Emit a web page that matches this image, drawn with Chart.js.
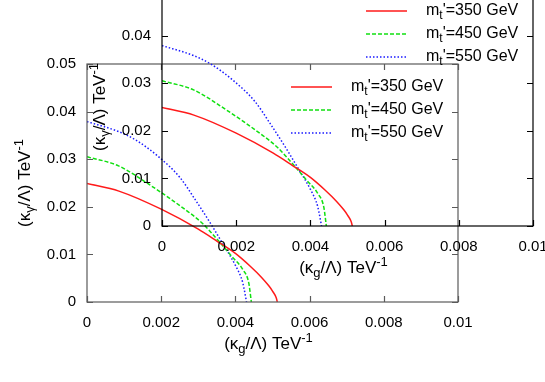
<!DOCTYPE html>
<html>
<head>
<meta charset="utf-8">
<script src="https://cdn.jsdelivr.net/npm/chart.js@4/dist/chart.umd.min.js"></script>
<style>
  html, body { margin: 0; padding: 0; background: #fff; overflow: hidden; }
  #wrap { position: relative; width: 545px; height: 382px; overflow: hidden; }
  canvas { position: absolute; }
</style>
</head>
<body>
<div id="wrap">
  <canvas id="backC" width="545" height="382" style="left:0;top:0"></canvas>
  <canvas id="frontC" width="545" height="382" style="left:75px;top:-76px"></canvas>
</div>
<script>
/* ── data (kappa_g/Lambda vs kappa_gamma/Lambda, TeV^-1) ── */
const redX   = [0, 0.00086, 0.002, 0.003, 0.0035, 0.004, 0.0044, 0.0047, 0.0049, 0.005, 0.0051, 0.00513];
const redY   = [0.0249, 0.0233, 0.0195, 0.0153, 0.0128, 0.0102, 0.0075, 0.0052, 0.0034, 0.0023, 0.0009, 0];
const greenX = [0, 0.00085, 0.00175, 0.00265, 0.0031, 0.00355, 0.0039, 0.0042, 0.00436, 0.00443];
const greenY = [0.0305, 0.0286, 0.0243, 0.0194, 0.0166, 0.0128, 0.0096, 0.0068, 0.0040, 0];
const blueX  = [0, 0.00085, 0.0013, 0.0019, 0.0025, 0.0029, 0.00337, 0.0037, 0.004, 0.0042, 0.0043];
const blueY  = [0.0379, 0.0358, 0.0341, 0.0307, 0.0262, 0.0217, 0.0160, 0.0117, 0.0077, 0.0040, 0];

const seriesMass = ['350', '450', '550'];
const xTicks = [0, 0.002, 0.004, 0.006, 0.008, 0.01];
const xTickLabels = ['0', '0.002', '0.004', '0.006', '0.008', '0.01'];
const yTicks = [0, 0.01, 0.02, 0.03, 0.04, 0.05];
const yTickLabels = ['0', '0.01', '0.02', '0.03', '0.04', '0.05'];

const FONT = '"Liberation Sans", Arial, Helvetica, sans-serif';

/* ── richText — draws text with sub/superscript pieces ─────────────────── */
function richText(ctx, parts, x, y, big, small, align) {
  let total = 0;
  parts.forEach(p => {
    ctx.font = (p[1] ? small : big) + 'px ' + FONT;
    p.w = ctx.measureText(p[0]).width;
    total += p.w;
  });
  let cx = align === 'left' ? x : x - total / 2;
  ctx.textBaseline = 'middle';
  ctx.textAlign = 'left';
  parts.forEach(p => {
    ctx.font = (p[1] ? small : big) + 'px ' + FONT;
    const dy = p[1] === 'sub' ? 5 : (p[1] === 'sup' ? -6 : 0);
    ctx.fillText(p[0], cx, y + dy);
    cx += p.w;
  });
}

/* ── frame, inward ticks, titles and key, in gnuplot style ─────────────── */
const gnuFrame = {
  id: 'gnuFrame',
  afterDraw(chart, args, opts) {
    const ctx = chart.ctx, ca = chart.chartArea;
    const xs = chart.scales.x, ys = chart.scales.y;
    ctx.save();
    ctx.strokeStyle = opts.axisColor;
    ctx.lineWidth = 1.2;
    ctx.strokeRect(ca.left, ca.top, ca.right - ca.left, ca.bottom - ca.top);
    ctx.beginPath();
    xTicks.forEach(v => {
      const px = Math.round(xs.getPixelForValue(v)) + 0.5;
      ctx.moveTo(px, ca.bottom); ctx.lineTo(px, ca.bottom - 6);
      ctx.moveTo(px, ca.top);    ctx.lineTo(px, ca.top + 6);
    });
    yTicks.forEach(v => {
      const py = Math.round(ys.getPixelForValue(v)) + 0.5;
      ctx.moveTo(ca.left, py);  ctx.lineTo(ca.left + 6, py);
      ctx.moveTo(ca.right, py); ctx.lineTo(ca.right - 6, py);
    });
    ctx.stroke();

    ctx.fillStyle = '#000';
    /* axis titles */
    richText(ctx, [['(κ'], ['g', 'sub'], ['/Λ) TeV'], ['-1', 'sup']],
             (ca.left + ca.right) / 2 - 4, ca.bottom + 42, 17, 13);
    ctx.save();
    ctx.translate(25, (ca.top + ca.bottom) / 2);
    ctx.rotate(-Math.PI / 2);
    richText(ctx, [['(κ'], ['γ', 'sub'], ['/Λ) TeV'], ['-1', 'sup']], 0, 0, 17, 13);
    ctx.restore();

    /* key */
    chart.data.datasets.forEach((ds, i) => {
      const y = ca.top + 23 + i * 23;
      ctx.strokeStyle = ds.borderColor;
      ctx.lineWidth = ds.borderWidth;
      ctx.setLineDash(ds.borderDash || []);
      ctx.beginPath();
      ctx.moveTo(ca.right - 167, y); ctx.lineTo(ca.right - 126, y);
      ctx.stroke();
      ctx.setLineDash([]);
      ctx.fillStyle = '#000';
      richText(ctx, [['m'], ['t', 'sub'], ["'=" + seriesMass[i] + ' GeV']],
               ca.right - 107, y, 16, 12, 'left');
    });
    ctx.restore();
  }
};

function pts(xv, yv) { return xv.map((x, i) => ({ x: x, y: yv[i] })); }

function buildPanel(canvasId, axisColor) {
  const ctx = document.getElementById(canvasId).getContext('2d');
  const line = (data, clr, dash) => ({
    data, borderColor: clr, borderWidth: 1.5, borderDash: dash,
    showLine: true, pointRadius: 0, fill: false,
    cubicInterpolationMode: 'monotone'
  });
  return new Chart(ctx, {
    type: 'scatter',
    data: {
      datasets: [
        line(pts(redX, redY), '#ff1a1a', []),
        line(pts(greenX, greenY), '#10e010', [4, 2]),
        line(pts(blueX, blueY), '#1a1aff', [1.5, 2])
      ]
    },
    plugins: [gnuFrame],
    options: {
      responsive: false,
      animation: false,
      devicePixelRatio: 1,
      layout: { padding: { left: 0, top: 64, right: 87, bottom: 0 } },
      plugins: {
        legend: { display: false },
        tooltip: { enabled: false },
        gnuFrame: { axisColor }
      },
      scales: {
        x: {
          type: 'linear', min: 0, max: 0.01,
          afterBuildTicks: s => { s.ticks = xTicks.map(v => ({ value: v })); },
          afterFit: s => { s.height = 80; },
          ticks: {
            autoSkip: false, maxRotation: 0, minRotation: 0, padding: 12,
            color: '#000', font: { family: FONT, size: 15 },
            callback: (v, i) => xTickLabels[i]
          },
          grid: { display: false, drawTicks: false },
          border: { display: false }
        },
        y: {
          type: 'linear', min: 0, max: 0.05,
          afterBuildTicks: s => { s.ticks = yTicks.map(v => ({ value: v })); },
          afterFit: s => { s.width = 87; },
          ticks: {
            autoSkip: false, padding: 11,
            color: '#000', font: { family: FONT, size: 15 },
            callback: (v, i) => yTickLabels[i]
          },
          grid: { display: false, drawTicks: false },
          border: { display: false }
        }
      }
    }
  });
}

buildPanel('backC', '#5a5a5a');
buildPanel('frontC', '#000000');
</script>
</body>
</html>
